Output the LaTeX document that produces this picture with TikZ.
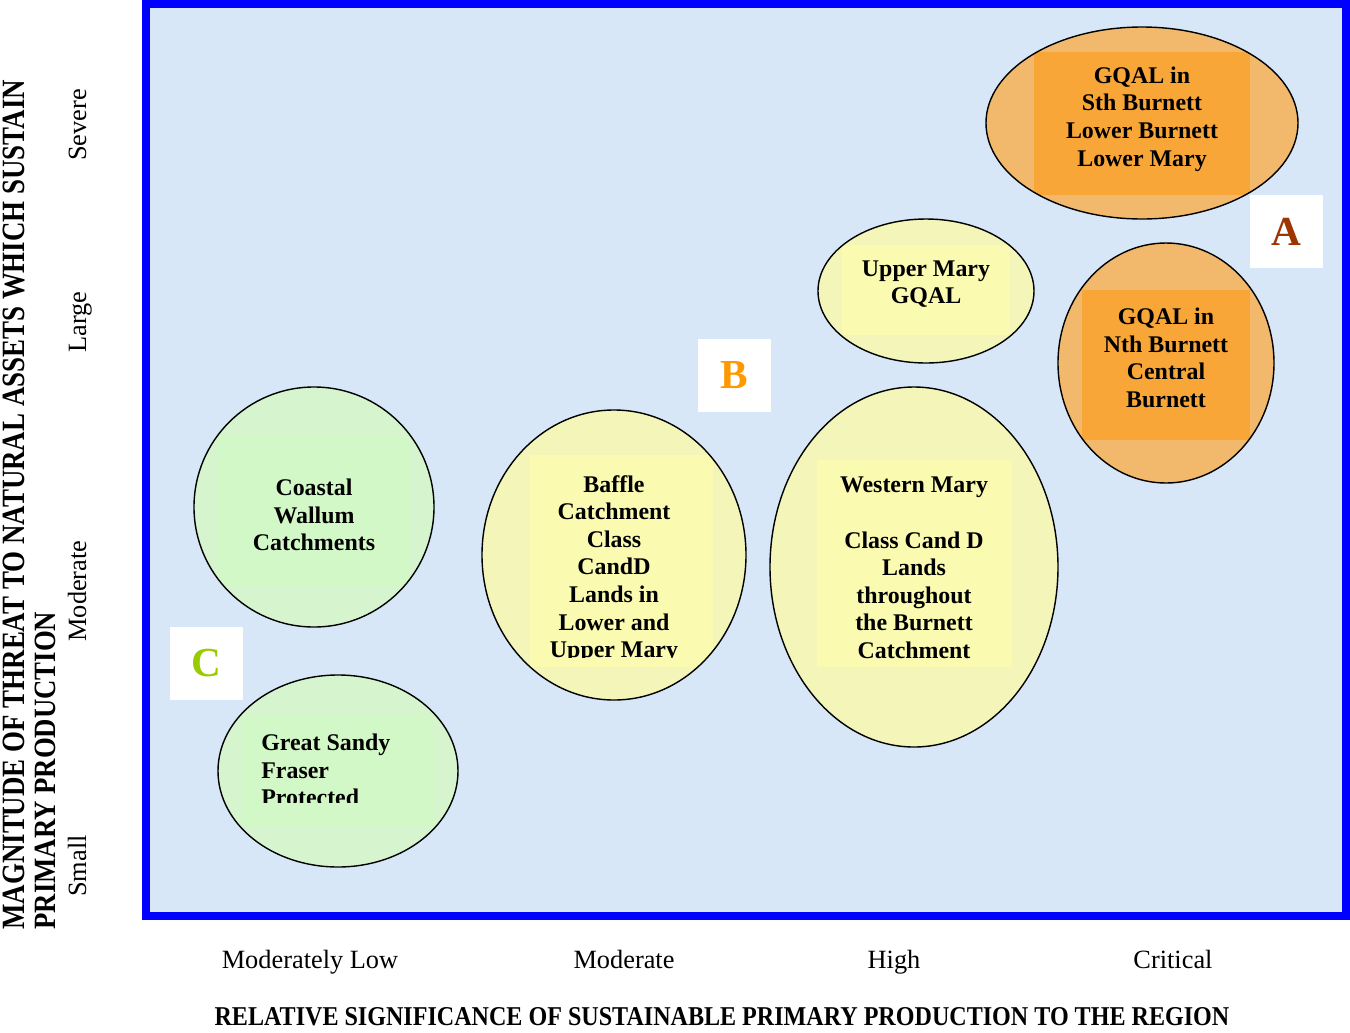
\documentclass[tikz,border=0pt]{standalone}
\usepackage{fontspec}
\setmainfont{Liberation Serif}
\usetikzlibrary{shapes.geometric}
\definecolor{bgblue}{RGB}{216,231,248}
\definecolor{orOut}{RGB}{242,184,108}
\definecolor{orIn}{RGB}{248,166,56}
\definecolor{yeOut}{RGB}{244,245,184}
\definecolor{yeIn}{RGB}{250,250,176}
\definecolor{grOut}{RGB}{214,245,206}
\definecolor{grIn}{RGB}{211,248,200}
\definecolor{labA}{RGB}{158,52,0}
\definecolor{labB}{RGB}{255,153,0}
\definecolor{labC}{RGB}{153,204,0}
\tikzset{
  etext/.style={font=\fontsize{13.6pt}{15.7pt}\selectfont\bfseries, align=center, inner sep=0pt},
  outl/.style={draw=black, line width=0.8pt},
  letterbox/.style={fill=white, minimum width=1.46cm, minimum height=1.46cm, inner sep=0pt, font=\fontsize{23.5pt}{26pt}\selectfont\bfseries},
  axlab/.style={font=\fontsize{15pt}{17pt}\selectfont, inner sep=0pt},
}
\begin{document}
\begin{tikzpicture}[x=0.02cm,y=-0.02cm]
\useasboundingbox (0,0) rectangle (1350,1032);
\fill[white] (0,0) rectangle (1350,1032);
\fill[bgblue] (150,7) rectangle (1342,912);
\draw[blue, line width=0.16cm] (146,3.5) rectangle (1346,915.5);

% 1 GQAL Sth
\coordinate (e1) at (1142,123);
\fill[orOut] (e1) ellipse [x radius=156, y radius=96];
\begin{scope}\clip (e1) ellipse [x radius=156, y radius=96]; \fill[orIn] (1034,52) rectangle (1250,195); \end{scope}
\draw[outl] (e1) ellipse [x radius=156, y radius=96];
\node[etext] (t1) at (1142,119) {GQAL in\\Sth Burnett\\Lower Burnett\\Lower Mary};

% 2 Upper Mary
\coordinate (e2) at (926,291);
\fill[yeOut] (e2) ellipse [x radius=108, y radius=72];
\begin{scope}\clip (e2) ellipse [x radius=108, y radius=72]; \fill[yeIn] (842,245) rectangle (1010,335); \end{scope}
\draw[outl] (e2) ellipse [x radius=108, y radius=72];
\node[etext] (t2) at (926,284) {Upper Mary\\GQAL};

% 3 GQAL Nth
\coordinate (e3) at (1166,363);
\fill[orOut] (e3) ellipse [x radius=108, y radius=120];
\begin{scope}\clip (e3) ellipse [x radius=108, y radius=120]; \fill[orIn] (1082,290) rectangle (1250,440); \end{scope}
\draw[outl] (e3) ellipse [x radius=108, y radius=120];
\node[etext] (t3) at (1166,358) {GQAL in\\Nth Burnett\\Central\\Burnett};

% 4 Coastal Wallum
\coordinate (e4) at (314,507);
\fill[grOut] (e4) ellipse [x radius=120, y radius=120];
\begin{scope}\clip (e4) ellipse [x radius=120, y radius=120]; \fill[grIn] (218,435) rectangle (410,585); \end{scope}
\draw[outl] (e4) ellipse [x radius=120, y radius=120];
\node[etext] (t4) at (314,515) {Coastal\\Wallum\\Catchments};

% 5 Baffle
\coordinate (e5) at (614,555);
\fill[yeOut] (e5) ellipse [x radius=132, y radius=145];
\begin{scope}\clip (e5) ellipse [x radius=132, y radius=145]; \fill[yeIn] (530,455) rectangle (713,667); \end{scope}
\draw[outl] (e5) ellipse [x radius=132, y radius=145];
\begin{scope}
\clip (470,440) rectangle (760,657);
\node[etext] (t5) at (614,569) {Baffle\\Catchment\\Class\\CandD\\Lands in\\Lower and\\Upper Mary};
\end{scope}

% 6 Western Mary
\coordinate (e6) at (914,567);
\fill[yeOut] (e6) ellipse [x radius=144, y radius=180];
\begin{scope}\clip (e6) ellipse [x radius=144, y radius=180]; \fill[yeIn] (817,460) rectangle (1012,667); \end{scope}
\draw[outl] (e6) ellipse [x radius=144, y radius=180];
\node[etext] (t6) at (914,568) {Western Mary\\[15.7pt]Class Cand D\\Lands\\throughout\\the Burnett\\Catchment};

% 7 Great Sandy
\coordinate (e7) at (338,771);
\fill[grOut] (e7) ellipse [x radius=120, y radius=96];
\begin{scope}\clip (e7) ellipse [x radius=120, y radius=96]; \fill[grIn] (242,715) rectangle (434,825); \end{scope}
\draw[outl] (e7) ellipse [x radius=120, y radius=96];
\begin{scope}
\clip (200,700) rectangle (460,802);
\node[etext, align=left, anchor=west] (t7) at (261,770) {Great Sandy\\Fraser\\Protected};
\end{scope}

% letter boxes
\node[letterbox, text=labA] (A) at (1286.5,231.5) {A};
\node[letterbox, text=labB] (B) at (734.5,375.5) {B};
\node[letterbox, text=labC] (C) at (206.5,663) {C};

% x axis labels
\node[axlab, anchor=base] (x1) at (310,968) {Moderately Low};
\node[axlab, anchor=base] (x2) at (624,968) {Moderate};
\node[axlab, anchor=base] (x3) at (894,968) {High};
\node[axlab, anchor=base] (x4) at (1173,968) {Critical};

% y axis labels
\node[axlab, anchor=base, rotate=90] (y1) at (86,866) {Small};
\node[axlab, anchor=base, rotate=90] (y2) at (86,591) {Moderate};
\node[axlab, anchor=base, rotate=90] (y3) at (86,322) {Large};
\node[axlab, anchor=base, rotate=90] (y4) at (86,125) {Severe};

% titles
\node[inner sep=0pt, anchor=base] (xt) at (722,1025) {\resizebox{20.3cm}{0.36cm}{\bfseries RELATIVE SIGNIFICANCE OF SUSTAINABLE PRIMARY PRODUCTION TO THE REGION}};
\node[inner sep=0pt, anchor=base west, rotate=90] (yt1) at (24,930) {\resizebox{17cm}{0.43cm}{\bfseries MAGNITUDE OF THREAT TO NATURAL ASSETS WHICH SUSTAIN}};
\node[inner sep=0pt, anchor=base west, rotate=90] (yt2) at (55,930) {\resizebox{6.36cm}{0.41cm}{\bfseries PRIMARY PRODUCTION}};
\end{tikzpicture}
\end{document}
